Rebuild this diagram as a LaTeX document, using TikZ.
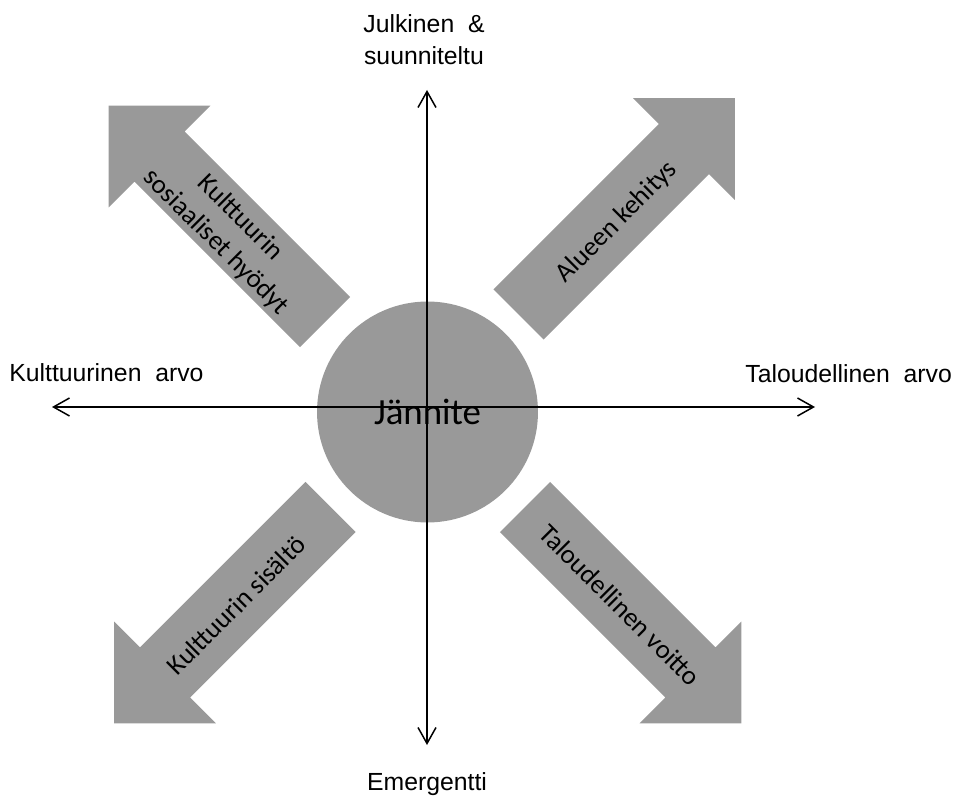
\documentclass[tikz,border=0pt]{standalone}
\usepackage{fontspec}
\setmainfont{Liberation Sans}
\newfontfamily\calibrifont{Carlito}
\usepackage{xcolor}
\usepackage{tikz}
\usetikzlibrary{arrows.meta}
\definecolor{shapegray}{RGB}{153,153,153}
\tikzset{
	valueaxis/.style={draw=black, line width=0.85pt, {Straight Barb[length=3.2mm,width=3.6mm]}-{Straight Barb[length=3.2mm,width=3.6mm]}},
	axislabel/.style={inner sep=0pt, font=\fontsize{14.1pt}{18.1pt}\selectfont, align=center},
	arrowtext/.style={inner sep=0pt, font=\calibrifont\fontsize{15.3pt}{19.5pt}\selectfont, align=center},
	tensioncircle/.style={circle, fill=shapegray, inner sep=0pt, minimum size=4.42cm, font=\calibrifont\fontsize{21pt}{25pt}\selectfont},
	blockarrow/.pic={\fill[shapegray] (0,-35.5) -- (234,-35.5) -- (234,-72) -- (306,0) -- (234,72) -- (234,35.5) -- (0,35.5) -- cycle;}
}

\begin{document}
\begin{tikzpicture}[x=0.02cm, y=0.02cm]
			\useasboundingbox (0,0) rectangle (957,795);
			
			% block arrows round the centre
			\pic[rotate=135] at (325,473) {blockarrow};
			\pic[rotate=45] at (518.5,480.5) {blockarrow};
			\pic[rotate=225] at (330.5,288) {blockarrow};
			\pic[rotate=-45] at (525,288) {blockarrow};
			
			\node[arrowtext, rotate=-45] (social) at (228,565) {Kulttuurin\\sosiaaliset hyödyt};
			\node[arrowtext, rotate=45] (region) at (617,573) {Alueen kehitys};
			\node[arrowtext, rotate=45] (content) at (236,190) {Kulttuurin sisältö};
			\node[arrowtext, rotate=-45] (profit) at (620,190) {Taloudellinen voitto};
			
			\node[tensioncircle] (centre) at (427.5,383) {Jännite};
			
			% value axes
			\coordinate (north) at (427,705);
			\coordinate (south) at (427,50);
			\coordinate (west) at (52,388);
			\coordinate (east) at (815,388);
			\draw[valueaxis] (south) -- (north);
			\draw[valueaxis] (west) -- (east);
			
			\node[axislabel] (public) at (424,755) {Julkinen\ \ \&\\suunniteltu};
			\node[axislabel, anchor=base] (emergent) at (427,5) {Emergentti};
			\node[axislabel, anchor=base west] (cultural) at (9,413) {Kulttuurinen\ \ arvo};
			\node[axislabel, anchor=base west] (economic) at (745,412) {Taloudellinen\ \ arvo};
			
		\end{tikzpicture}
\end{document}
